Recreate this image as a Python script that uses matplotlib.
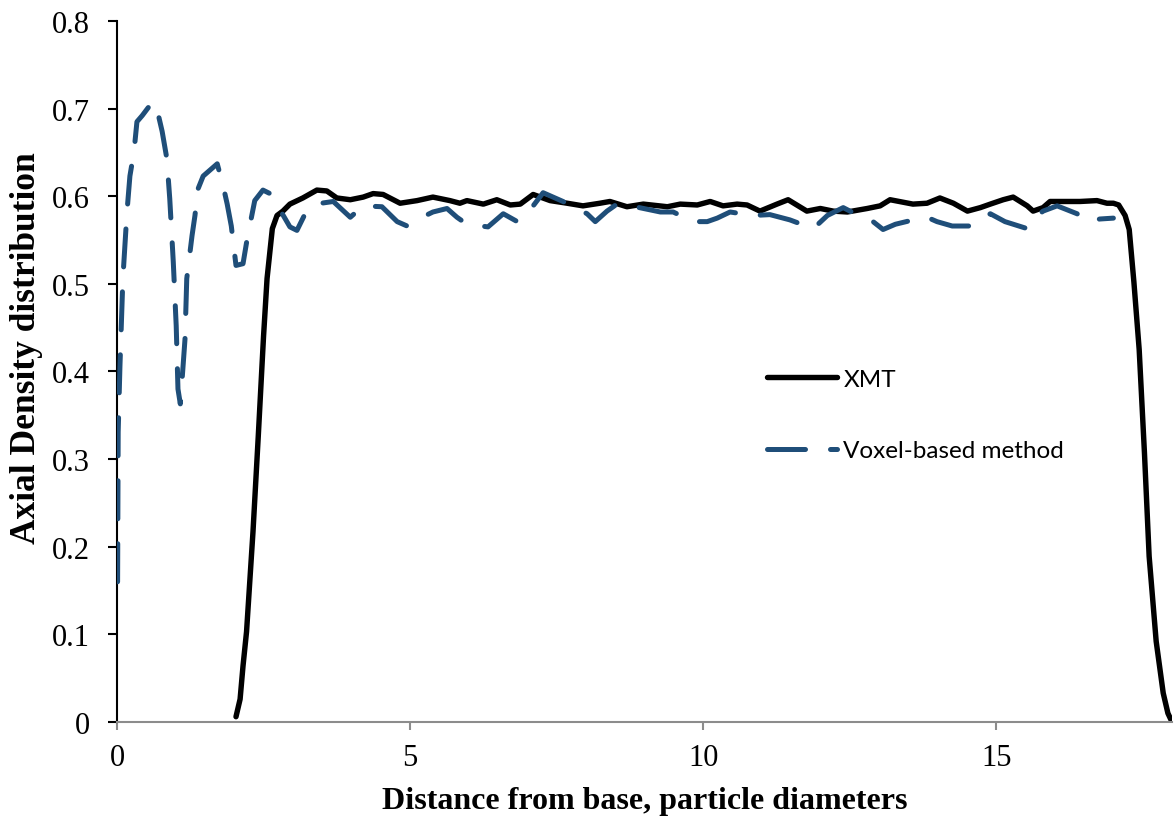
import matplotlib
matplotlib.use("Agg")
import matplotlib.pyplot as plt

# XMT axial density profile (distance in particle diameters)
xmt_x = [2.03, 2.10, 2.15, 2.21, 2.32, 2.41, 2.50, 2.56, 2.65, 2.73, 2.83, 2.95,
         3.17, 3.41, 3.58, 3.75, 3.98, 4.20, 4.37, 4.54, 4.83, 5.12, 5.39, 5.68,
         5.85, 5.97, 6.25, 6.48, 6.71, 6.88, 7.10, 7.39, 7.68, 7.95, 8.24, 8.41,
         8.70, 8.98, 9.39, 9.61, 9.90, 10.12, 10.34, 10.58, 10.75, 10.97, 11.26,
         11.45, 11.77, 12.00, 12.22, 12.46, 12.80, 13.02, 13.19, 13.58, 13.82,
         14.04, 14.27, 14.51, 14.73, 14.90, 15.12, 15.29, 15.53, 15.63, 15.80,
         15.92, 16.14, 16.43, 16.72, 16.89, 17.00, 17.09, 17.20, 17.27, 17.35,
         17.44, 17.53, 17.61, 17.73, 17.85, 17.93, 18.00]
xmt_y = [0.006, 0.026, 0.064, 0.103, 0.217, 0.326, 0.440, 0.506, 0.563, 0.578, 0.583, 0.591,
         0.598, 0.607, 0.606, 0.598, 0.596, 0.599, 0.603, 0.602, 0.592, 0.595, 0.599, 0.595,
         0.592, 0.595, 0.591, 0.596, 0.590, 0.591, 0.602, 0.595, 0.592, 0.589, 0.592, 0.594,
         0.588, 0.591, 0.588, 0.591, 0.590, 0.594, 0.589, 0.591, 0.590, 0.583, 0.591,
         0.596, 0.583, 0.586, 0.583, 0.582, 0.586, 0.589, 0.596, 0.591, 0.592,
         0.598, 0.592, 0.583, 0.587, 0.591, 0.596, 0.599, 0.589, 0.583, 0.587,
         0.594, 0.594, 0.594, 0.595, 0.592, 0.592, 0.590, 0.578, 0.562, 0.502,
         0.425, 0.307, 0.189, 0.092, 0.033, 0.010, 0.000]

# Voxel-based method profile
vox_x = [0.01, 0.02, 0.05, 0.10, 0.17, 0.22, 0.29, 0.34, 0.43, 0.61, 0.68, 0.77,
         0.85, 0.90, 0.96, 1.01, 1.04, 1.08, 1.13, 1.16, 1.19, 1.28, 1.33, 1.38,
         1.47, 1.71, 1.81, 1.88, 1.95, 2.03, 2.15, 2.22, 2.27, 2.35, 2.49, 2.61,
         2.75, 2.95, 3.07, 3.21, 3.38, 3.69, 3.98, 4.20, 4.52, 4.78, 4.95, 5.05,
         5.39, 5.63, 5.80, 5.97, 6.33, 6.59, 6.83, 7.10, 7.27, 7.61, 8.02, 8.16,
         8.36, 8.53, 8.84, 9.27, 9.49, 9.83, 10.07, 10.24, 10.46, 10.85, 11.14,
         11.48, 11.88, 12.12, 12.39, 12.71, 12.90, 13.07, 13.28, 13.65, 13.82,
         13.99, 14.25, 14.59, 14.90, 15.15, 15.53, 15.67, 15.80, 16.04, 16.38,
         16.55, 16.77, 17.00]
vox_y = [0.160, 0.331, 0.406, 0.506, 0.582, 0.623, 0.651, 0.685, 0.692, 0.708, 0.700, 0.674,
         0.643, 0.597, 0.525, 0.452, 0.380, 0.363, 0.409, 0.437, 0.506, 0.555, 0.578, 0.608,
         0.623, 0.637, 0.612, 0.591, 0.566, 0.521, 0.523, 0.551, 0.568, 0.595, 0.607, 0.603,
         0.588, 0.565, 0.561, 0.580, 0.591, 0.594, 0.576, 0.589, 0.588, 0.571, 0.566, 0.571,
         0.582, 0.586, 0.576, 0.568, 0.565, 0.580, 0.571, 0.589, 0.604, 0.594, 0.580, 0.571,
         0.583, 0.591, 0.588, 0.582, 0.582, 0.571, 0.571, 0.575, 0.582, 0.578, 0.579,
         0.573, 0.563, 0.578, 0.587, 0.576, 0.571, 0.562, 0.568, 0.574, 0.576,
         0.571, 0.566, 0.566, 0.580, 0.571, 0.563, 0.576, 0.583, 0.589, 0.580,
         0.571, 0.574, 0.575]

x_ticks = [0, 5, 10, 15]
y_ticks = [0, 0.1, 0.2, 0.3, 0.4, 0.5, 0.6, 0.7, 0.8]
y_tick_labels = ["0", "0.1", "0.2", "0.3", "0.4", "0.5", "0.6", "0.7", "0.8"]

BLUE = "#1F4E79"
GREY = "#8C8C8C"
SERIF = "Liberation Serif"

fig = plt.figure(figsize=(11.76, 8.29), dpi=100)
ax = fig.add_axes([0.0995, 0.1279, 0.8971, 0.8456])

ax.plot(xmt_x, xmt_y, color="black", linewidth=3.9, solid_capstyle="round",
        solid_joinstyle="round", label="XMT", zorder=2)
ax.plot(vox_x, vox_y, color=BLUE, linewidth=3.6, linestyle=(0, (7.6, 5.0)),
        dash_capstyle="round", dash_joinstyle="round",
        label="Voxel-based method", zorder=3)

ax.set_xlim(0, 18)
ax.set_ylim(0, 0.8)
ax.set_xticks(x_ticks)
ax.set_yticks(y_ticks)
ax.set_yticklabels(y_tick_labels)

for s in ("top", "right"):
    ax.spines[s].set_visible(False)
ax.spines["left"].set_color("black")
ax.spines["left"].set_linewidth(1.5)
ax.spines["bottom"].set_color(GREY)
ax.spines["bottom"].set_linewidth(1.5)

ax.tick_params(axis="y", direction="out", length=6.5, width=1.5, color="black",
               pad=13, labelsize=22)
ax.tick_params(axis="x", direction="out", length=6, width=1.5, color=GREY,
               pad=9.5, labelsize=22)
for lab in ax.get_xticklabels() + ax.get_yticklabels():
    lab.set_fontfamily(SERIF)

ax.set_xlabel("Distance from base, particle diameters", fontfamily=SERIF,
              fontsize=23, fontweight="bold")
ax.set_ylabel("Axial Density distribution", fontfamily=SERIF,
              fontsize=25.5, fontweight="bold")
ax.xaxis.set_label_coords(0.5, -0.092)
ax.yaxis.set_label_coords(-0.07, 0.535)

ax.legend(loc="upper left", bbox_to_anchor=(0.616, 0.504), frameon=False,
          prop={"family": "Lato", "size": 17.5}, handlelength=2.9,
          handletextpad=0.25, labelspacing=2.08, borderpad=0, borderaxespad=0)

fig.savefig("out.png", dpi=100)
